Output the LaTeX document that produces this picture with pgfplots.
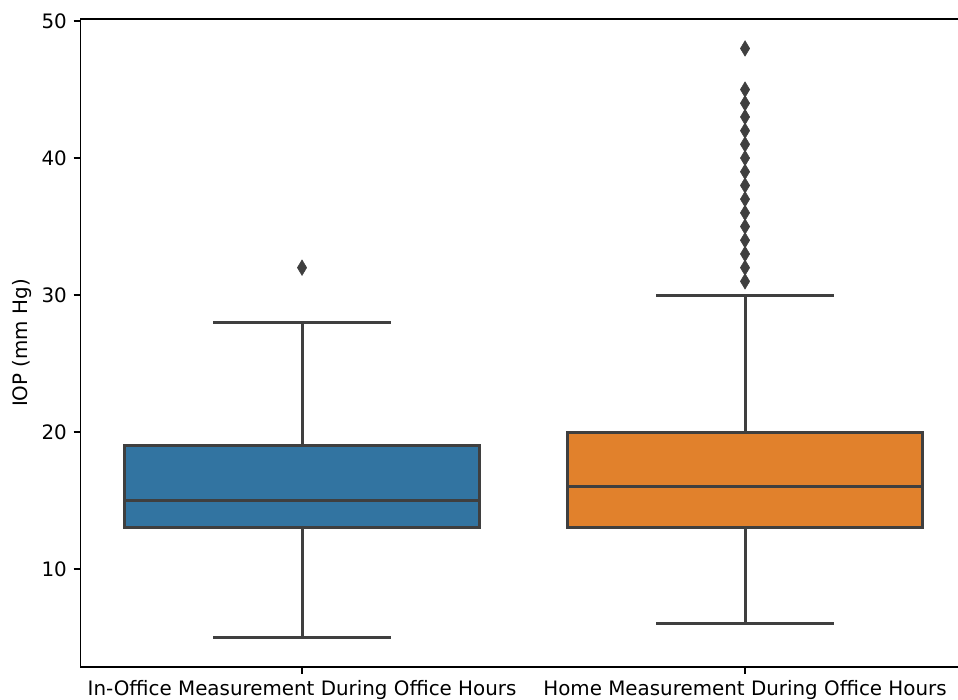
\documentclass[border=0pt]{standalone}
\usepackage{fontspec}
\setmainfont{DejaVu Sans}
\usepackage{pgfplots}
\pgfplotsset{compat=1.18}
\usepgfplotslibrary{statistics}
\definecolor{boxblue}{HTML}{3274A1}
\definecolor{boxorange}{HTML}{E1812C}
\definecolor{linegray}{HTML}{3F3F3F}
\begin{document}
\fontsize{14.9}{17}\selectfont
\begin{tikzpicture}
\path[use as bounding box] (-60.4pt,-24.75pt) rectangle (658.1pt,500.25pt);
\begin{axis}[
  name=ax,
  at={(0pt,0pt)}, anchor=south west,
  scale only axis,
  width=664.5pt, height=486pt,
  xmin=-0.5, xmax=1.5,
  ymin=2.85, ymax=50.15,
  xtick={0,1},
  xticklabels={In-Office Measurement During Office Hours, Home Measurement During Office Hours},
  ytick={10,20,30,40,50},
  tick pos=left,
  tick align=outside,
  major tick length=5.1pt,
  tick style={line width=1.1pt, black},
  axis line style={line width=1.1pt, black},
  ylabel={IOP (mm Hg)},
  ylabel shift=-3pt,
  ylabel style={font=\fontsize{14.9}{17}\selectfont},
  tick label style={font=\fontsize{14.9}{17}\selectfont},
  /pgf/number format/assume math mode=true,
  boxplot/draw direction=y,
  clip=false,
]
\addplot[boxplot prepared={median=15, lower quartile=13, upper quartile=19,
    lower whisker=5, upper whisker=28, draw position=0,
    box extend=0.8, whisker extend=0.4},
  draw=linegray, fill=boxblue, line width=2.2pt,
  mark=diamond*, mark size=5.8pt,
  mark options={fill=linegray, draw=linegray, line width=0.4pt, xscale=0.8}]
  table[row sep=\\, y index=0] {y\\ 32\\};
\addplot[boxplot prepared={median=16, lower quartile=13, upper quartile=20,
    lower whisker=6, upper whisker=30, draw position=1,
    box extend=0.8, whisker extend=0.4},
  draw=linegray, fill=boxorange, line width=2.2pt,
  mark=diamond*, mark size=5.8pt,
  mark options={fill=linegray, draw=linegray, line width=0.4pt, xscale=0.8}]
  table[row sep=\\, y index=0] {y\\ 31\\ 32\\ 33\\ 34\\ 35\\ 36\\ 37\\ 38\\ 39\\ 40\\ 41\\ 42\\ 43\\ 44\\ 45\\ 48\\};
\end{axis}
\end{tikzpicture}
\end{document}
